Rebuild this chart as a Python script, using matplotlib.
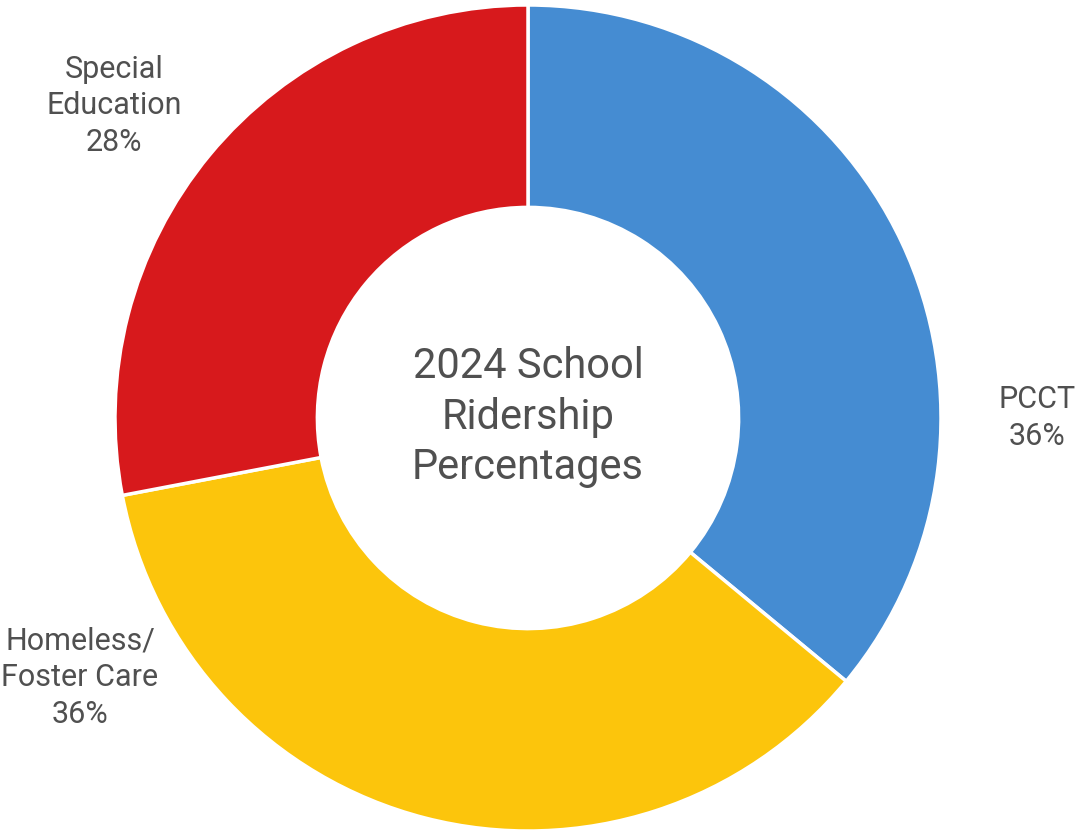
import matplotlib.pyplot as plt

categories = ['PCCT', 'Homeless/\nFoster Care', 'Special\nEducation']
shares = [36, 36, 28]
colors = ['#458CD2', '#FCC50C', '#D7191C']

plt.rcParams['font.family'] = ['Roboto', 'DejaVu Sans']
text_color = '#505050'

fig = plt.figure(figsize=(10.76, 8.32), dpi=100)
ax = fig.add_axes([0, 0, 1, 1])

# donut in pixel-like coordinates
cx, cy, r = 528, 832 - 418, 413
wedges, _ = ax.pie(shares, colors=colors, startangle=90, counterclock=False,
                   center=(cx, cy), radius=r,
                   wedgeprops=dict(width=r * 0.49, edgecolor='white', linewidth=2.5))

ax.set_xlim(0, 1076)
ax.set_ylim(0, 832)
ax.set_aspect('equal')
ax.axis('off')

# outside labels
label_pos = [(1037, 832 - 418), (80, 832 - 678), (114, 832 - 106)]
for name, val, (x, y) in zip(categories, shares, label_pos):
    ax.text(x, y, f"{name}\n{val}%", ha='center', va='center',
            fontsize=22, color=text_color, linespacing=1.33)

ax.text(cx, cy + 1, "2024 School\nRidership\nPercentages", ha='center', va='center',
        fontsize=30, color=text_color, linespacing=1.3)

fig.savefig('out.png', dpi=100)
